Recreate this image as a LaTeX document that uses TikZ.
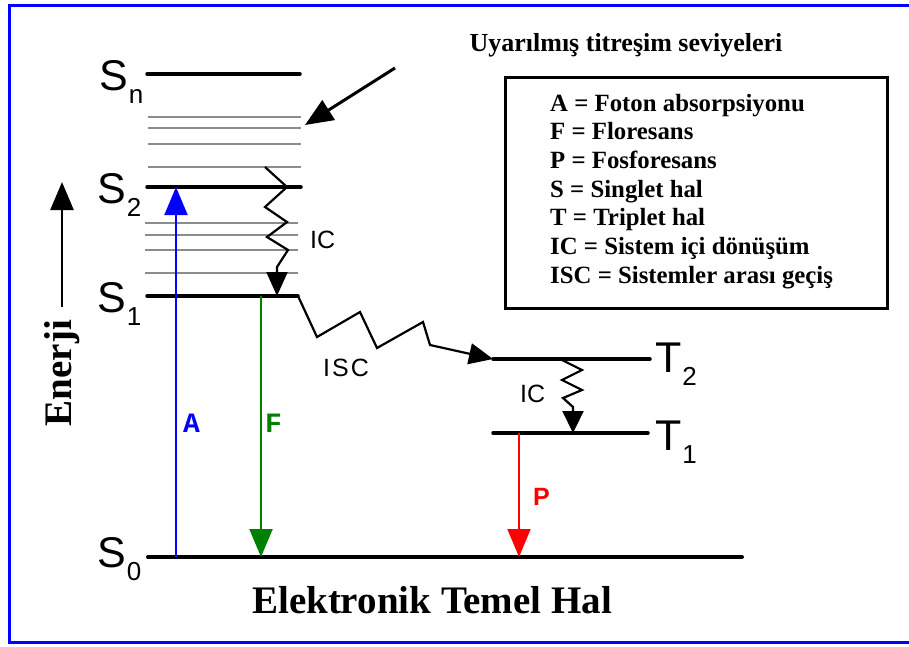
\documentclass[tikz,border=0pt]{standalone}
\usepackage{fontspec}
\setmainfont{Liberation Serif}
\setsansfont{Liberation Sans}
\setmonofont{Liberation Mono}
\usetikzlibrary{arrows.meta,calc}
\usepackage{tkz-euclide}
\newcommand{\lvlname}[2]{#1\kern1pt\raisebox{-13pt}{\fontsize{26pt}{26pt}\selectfont #2}}

\begin{document}
\begin{tikzpicture}[x=1pt,y=-1pt,
  level/.style={line width=3.5pt,color=black},
  vib/.style={line width=2.8pt,color=black!45},
  tr/.style={line width=2pt,-{Triangle[length=28pt,width=23pt]}},
  zig/.style={line width=2.2pt,color=black,-{Triangle[length=24pt,width=21pt]}},
  lvltxt/.style={font=\fontsize{43pt}{43pt}\sffamily,inner sep=0pt,anchor=base west},
  smalltxt/.style={font=\fontsize{25pt}{25pt}\sffamily,inner sep=0pt,anchor=base west},
  keytxt/.style={font=\fontsize{24.8pt}{24.8pt}\bfseries,inner sep=0pt,anchor=base west}]
\useasboundingbox (0,0) rectangle (909,646);
\draw[line width=3pt,color=blue] (9,5) rectangle (915,642);

\tkzDefPoints{147/74/Sna,300/74/Snb,147/187/Sba,301/187/Sbb,147/296/Saa,298/296/Sab,148/557/Soa,742/557/Sob}
\tkzDefPoints{493/359/Tba,650/359/Tbb,493/433/Taa,648/433/Tab}
\tkzDefPoints{176/557/Aa,176/187/Ab,261/296/Fa,261/557/Fb,519/433/Pa,519/557/Pb}
\tkzDefPoints{265/167/ICa,277/296/ICb,560/359/ICc,573/433/ICd}
\tkzDefPoints{62/307/Ea,62/182/Eb,395/68/Va,305/125/Vb}

\foreach \y in {117,128,144,167} \draw[vib] (148,\y) -- (301,\y);
\foreach \y in {223,235,250,273} \draw[vib] (145,\y) -- (298,\y);

\tkzDrawSegments[level](Sna,Snb Sba,Sbb Saa,Sab Tba,Tbb Taa,Tab)
\tkzDrawSegments[line width=4pt,color=black](Soa,Sob)

\draw[tr,color=blue] (Aa) -- (Ab);
\draw[tr,color=green!50!black] (Fa) -- (Fb);
\draw[tr,color=red] (Pa) -- (Pb);
\draw[tr,line width=2.5pt] (Ea) -- (Eb);
\draw[tr,line width=3pt] (Va) -- (Vb);

\draw[zig] (ICa) -- ++(22,20) -- ++(-22,20) -- ++(22,15) -- ++(-20,15) -- ++(21,13) -- ++(-11,17) -- (ICb);
\draw[zig] (Sab) -- ++(19,41) -- ++(43,-25) -- ++(17,36) -- ++(46,-26) -- ++(7,23) -- (Tba);
\draw[zig,-{Triangle[length=22pt,width=21pt]}] (ICc) -- ++(22,11) -- ++(-20,10) -- ++(20,10) -- ++(-19,8) -- ++(10,9) -- (ICd);

\node[lvltxt] (Sn) at (99,90) {\lvlname{S}{n}};
\node[lvltxt] (S2) at (97,203) {\lvlname{S}{2}};
\node[lvltxt] (S1) at (97,312) {\lvlname{S}{1}};
\node[lvltxt] (S0) at (97,567) {\lvlname{S}{0}};
\node[lvltxt] (T2) at (655,372) {\lvlname{T}{2}};
\node[lvltxt] (T1) at (655,450) {\lvlname{T}{1}};

\node[smalltxt] (ic1) at (310,248) {IC};
\node[smalltxt] (isc) at (323,376) {I\kern2pt S\kern2pt C};
\node[smalltxt] (ic2) at (520,402) {IC};
\node[font=\fontsize{28pt}{28pt}\ttfamily\bfseries,inner sep=0pt,anchor=base west,text=blue] (Alab) at (183,432) {A};
\node[font=\fontsize{28pt}{28pt}\ttfamily\bfseries,inner sep=0pt,anchor=base west,text=green!50!black] (Flab) at (265,432) {F};
\node[smalltxt,font=\fontsize{25pt}{25pt}\sffamily\bfseries,text=red] (Plab) at (533,505) {P};

\node[font=\fontsize{26pt}{26pt}\bfseries,inner sep=0pt] (vibtxt) at (626,45) {Uyarılmış titreşim seviyeleri};
\node[font=\fontsize{39pt}{39pt}\bfseries,inner sep=0pt,rotate=90] (enerji) at (62,373) {Enerji};
\node[font=\fontsize{39pt}{39pt}\bfseries,inner sep=0pt,anchor=base] (temel) at (432,613) {Elektronik Temel Hal};

\draw[line width=3pt] (505,77) rectangle (887,308);
\foreach \t [count=\i] in {A = Foton absorpsiyonu,F = Floresans,P = Fosforesans,S = Singlet hal,T = Triplet hal,IC = Sistem içi dönüşüm,ISC = Sistemler arası geçiş}
  \node[keytxt] (key\i) at (550,{82.33+28.67*\i}) {\t};
\end{tikzpicture}
\end{document}
